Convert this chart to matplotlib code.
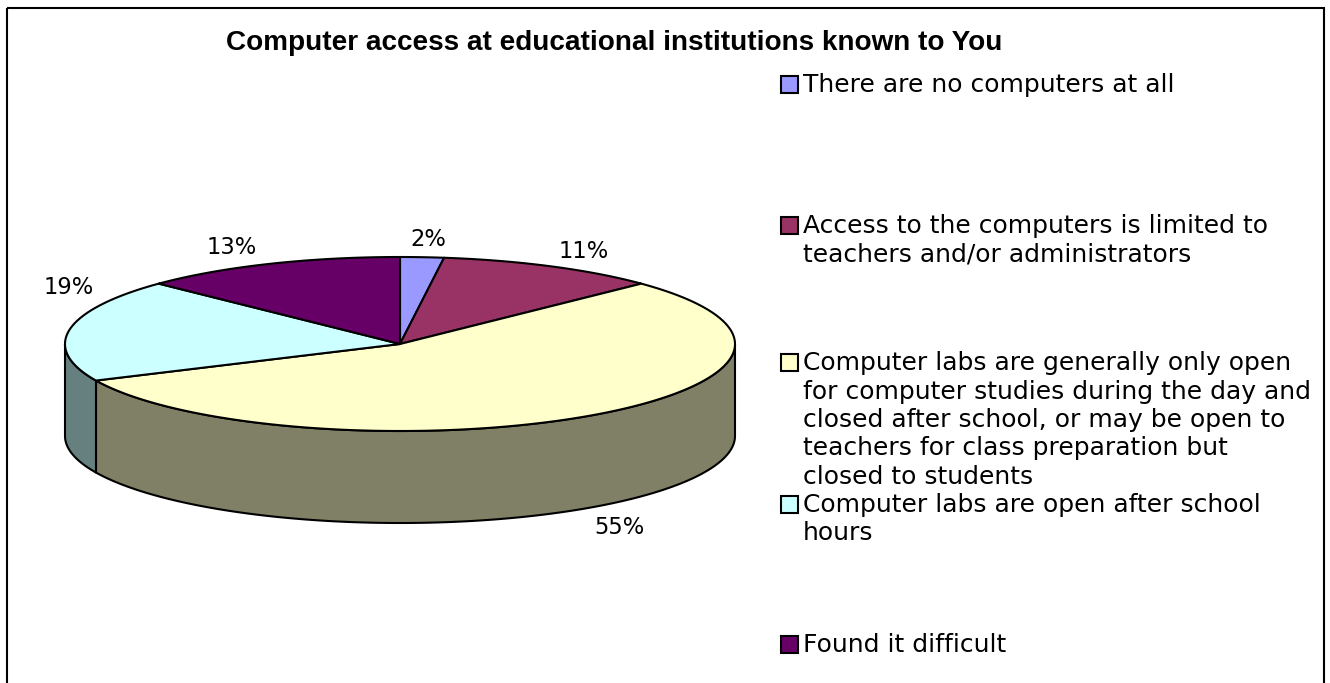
import numpy as np
import matplotlib
matplotlib.use("Agg")
from matplotlib import pyplot as plt
from matplotlib.patches import Polygon, Rectangle

title = "Computer access at educational institutions known to You"
categories = [
    "There are no computers at all",
    "Access to the computers is limited to\nteachers and/or administrators",
    "Computer labs are generally only open\nfor computer studies during the day and\nclosed after school, or may be open to\nteachers for class preparation but\nclosed to students",
    "Computer labs are open after school\nhours",
    "Found it difficult",
]
values = [2.1, 10.7, 55.3, 19.1, 12.8]
top_colors = ["#9999FF", "#993366", "#FFFFCC", "#CCFFFF", "#660066"]
side_colors = ["#4D4D80", "#4D1A33", "#808066", "#668080", "#330033"]

# pixel layout of the pie
cx, cy, rx, ry, depth = 400, 344, 335, 87, 92
legend_y = [84, 239, 419, 518, 644]
label_pos = [(428, 239), (584, 251), (619, 527), (69, 287), (232, 247)]

fig = plt.figure(figsize=(13.3, 6.83), dpi=100)
ax = fig.add_axes([0, 0, 1, 1])
ax.set_xlim(0, 1330)
ax.set_ylim(683, 0)
ax.axis("off")

# chart frame, runs off the bottom of the picture
ax.add_patch(Rectangle((7, 8), 1317, 700, fill=False, ec="black", lw=1.5))


def rim(a0, a1, y0=0):
    # angles clockwise from 12 o'clock, degrees
    t = np.radians(np.linspace(a0, a1, 200))
    return np.column_stack([cx + rx * np.sin(t), cy + y0 - ry * np.cos(t)])


edges = np.concatenate([[0], np.cumsum(values)]) * 360 / sum(values)

# side wall, only the front half shows
for i in range(len(values)):
    a0, a1 = max(edges[i], 90), min(edges[i + 1], 270)
    if a1 <= a0:
        continue
    pts = np.vstack([rim(a0, a1), rim(a0, a1, depth)[::-1]])
    ax.add_patch(Polygon(pts, closed=True, fc=side_colors[i], ec="black", lw=1.5, joinstyle="round"))

# top of the pie
for i in range(len(values)):
    pts = np.vstack([[[cx, cy]], rim(edges[i], edges[i + 1])])
    ax.add_patch(Polygon(pts, closed=True, fc=top_colors[i], ec="black", lw=1.5, joinstyle="round"))

for v, (x, y) in zip(values, label_pos):
    ax.text(x, y, f"{v:.0f}%", ha="center", va="center", fontsize=16.3, family="DejaVu Sans", color="black")

ax.text(614, 43, title, ha="center", va="center", fontsize=20.1, fontweight="bold",
        family="Liberation Sans", color="black")

for name, color, y in zip(categories, top_colors, legend_y):
    n = name.count("\n") + 1
    top = y - (n - 1) * 28.5 / 2
    ax.add_patch(Rectangle((781, top - 7.7), 16.5, 16.5, fc=color, ec="black", lw=1.5))
    for j, line in enumerate(name.split("\n")):
        ax.text(803, top + 1 + j * 28.5, line, ha="left", va="center", fontsize=18, family="DejaVu Sans", color="black")

fig.savefig("out.png", dpi=100)
